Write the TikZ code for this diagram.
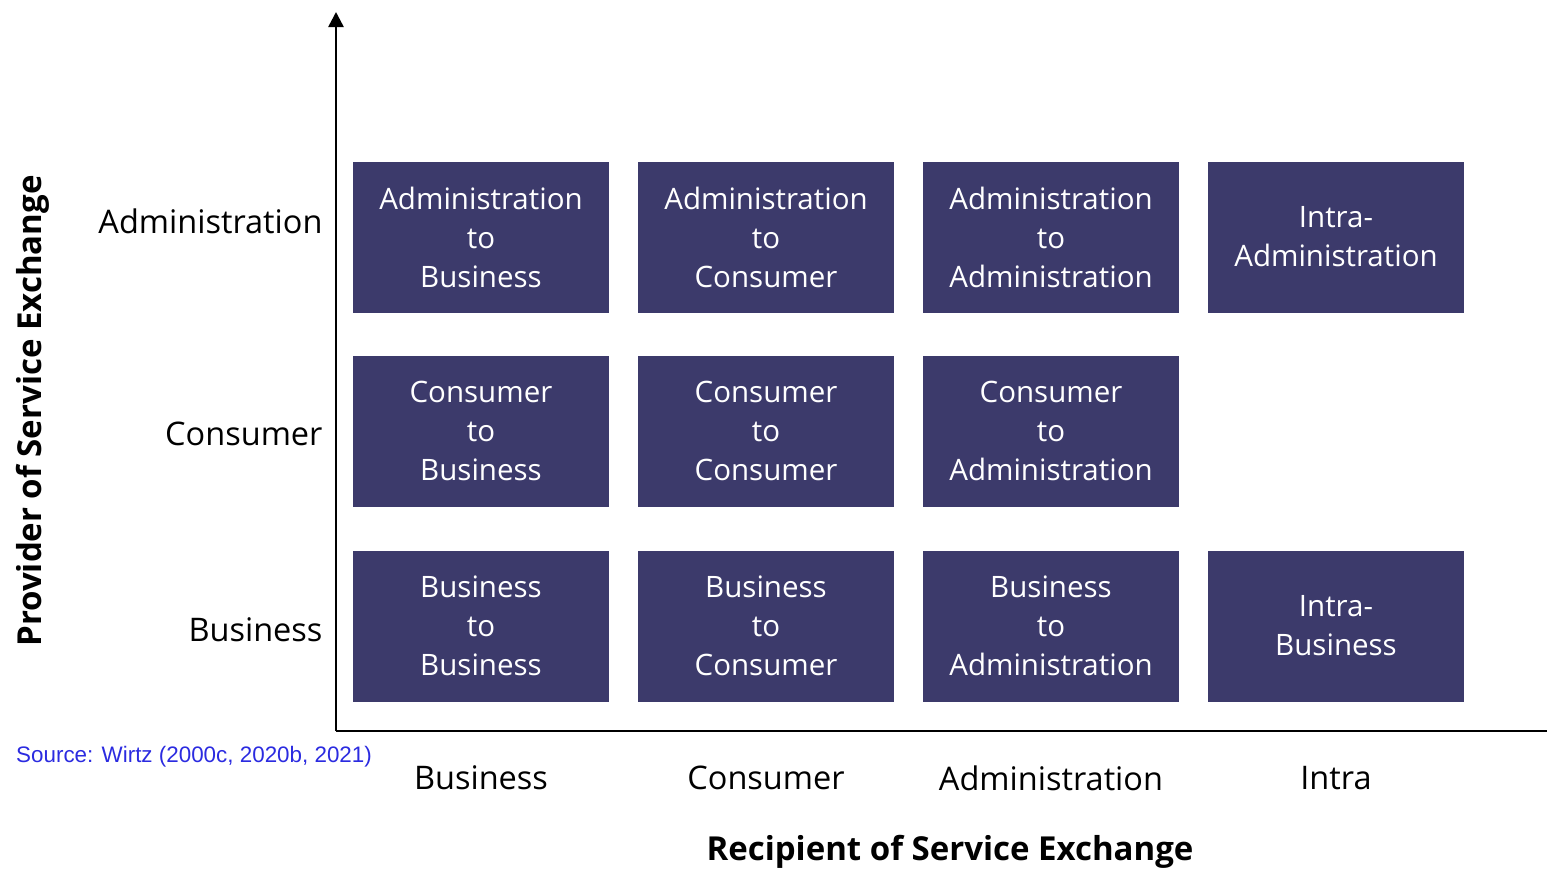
\documentclass[tikz,border=0pt]{standalone}
\usepackage{fontspec}
\setmainfont{Open Sans}
\newfontfamily\sourcefont{Liberation Sans}
\usetikzlibrary{arrows.meta}

\definecolor{cellBlue}{HTML}{3C3A6B}
\definecolor{sourceBlue}{HTML}{2B2BE0}

\tikzset{
    cellBox/.style={fill=cellBlue, text=white, align=center, inner sep=0pt,
        minimum width=256pt, minimum height=151pt,
        font=\fontsize{29.5}{39}\selectfont},
    axisLabel/.style={font=\fontsize{32.5}{39}\selectfont},
    axisTitle/.style={font=\fontsize{33}{39}\selectfont\bfseries}
}

\begin{document}
\begin{tikzpicture}[x=1pt, y=-1pt]

    \useasboundingbox (0,0) rectangle (1547,873);

    % column and row params
    \def\colPitch{285}
    \def\firstCol{481}
    \pgfmathsetmacro{\colB}{\firstCol + \colPitch}
    \pgfmathsetmacro{\colC}{\firstCol + 2*\colPitch}
    \pgfmathsetmacro{\colD}{\firstCol + 3*\colPitch}

    \def\rowAdmin{237}
    \def\rowConsumer{431}
    \def\rowBusiness{626}

    % draw axes
    \coordinate (origin) at (336,731);
    \coordinate (yEnd) at (336,12);
    \coordinate (xEnd) at (1547,731);

    \draw[line width=2.5pt, -{Triangle[width=15pt,length=15pt]}] (origin) -- (yEnd);
    \draw[line width=2.5pt] (origin) -- (xEnd);

    % administration row
    \node[cellBox] (adminToBusiness) at (\firstCol, \rowAdmin) {Administration\\to\\Business};
    \node[cellBox] (adminToConsumer) at (\colB, \rowAdmin) {Administration\\to\\Consumer};
    \node[cellBox] (adminToAdmin) at (\colC, \rowAdmin) {Administration\\to\\Administration};
    \node[cellBox] (intraAdmin) at (\colD, \rowAdmin) {Intra-\\Administration};

    % consumer row
    \node[cellBox] (consumerToBusiness) at (\firstCol, \rowConsumer) {Consumer\\to\\Business};
    \node[cellBox] (consumerToConsumer) at (\colB, \rowConsumer) {Consumer\\to\\Consumer};
    \node[cellBox] (consumerToAdmin) at (\colC, \rowConsumer) {Consumer\\to\\Administration};

    % business row
    \node[cellBox] (businessToBusiness) at (\firstCol, \rowBusiness) {Business\\to\\Business};
    \node[cellBox] (businessToConsumer) at (\colB, \rowBusiness) {Business\\to\\Consumer};
    \node[cellBox] (businessToAdmin) at (\colC, \rowBusiness) {Business\\to\\Administration};
    \node[cellBox] (intraBusiness) at (\colD, \rowBusiness) {Intra-\\Business};

    % row labels
    \node[axisLabel, anchor=east] (provAdmin) at (326, \rowAdmin - 16) {Administration};
    \node[axisLabel, anchor=east] (provConsumer) at (326, \rowConsumer + 3) {Consumer};
    \node[axisLabel, anchor=east] (provBusiness) at (326, \rowBusiness + 4) {Business};

    % column labels
    \node[axisLabel] (recBusiness) at (\firstCol, 778) {Business};
    \node[axisLabel] (recConsumer) at (\colB, 778) {Consumer};
    \node[axisLabel] (recAdmin) at (\colC, 778) {Administration};
    \node[axisLabel] (recIntra) at (\colD, 778) {Intra};

    % axis titles
    \node[axisTitle, rotate=90] (providerTitle) at (33, 411) {Provider of Service Exchange};
    \node[axisTitle] (recipientTitle) at (950, 852) {Recipient of Service Exchange};

    % source
    \node[anchor=west, inner sep=0pt, text=sourceBlue, font=\sourcefont\fontsize{22.4}{24}\selectfont] (source) at (16, 757) {Source: Wirtz (2000c, 2020b, 2021)};

\end{tikzpicture}
\end{document}
